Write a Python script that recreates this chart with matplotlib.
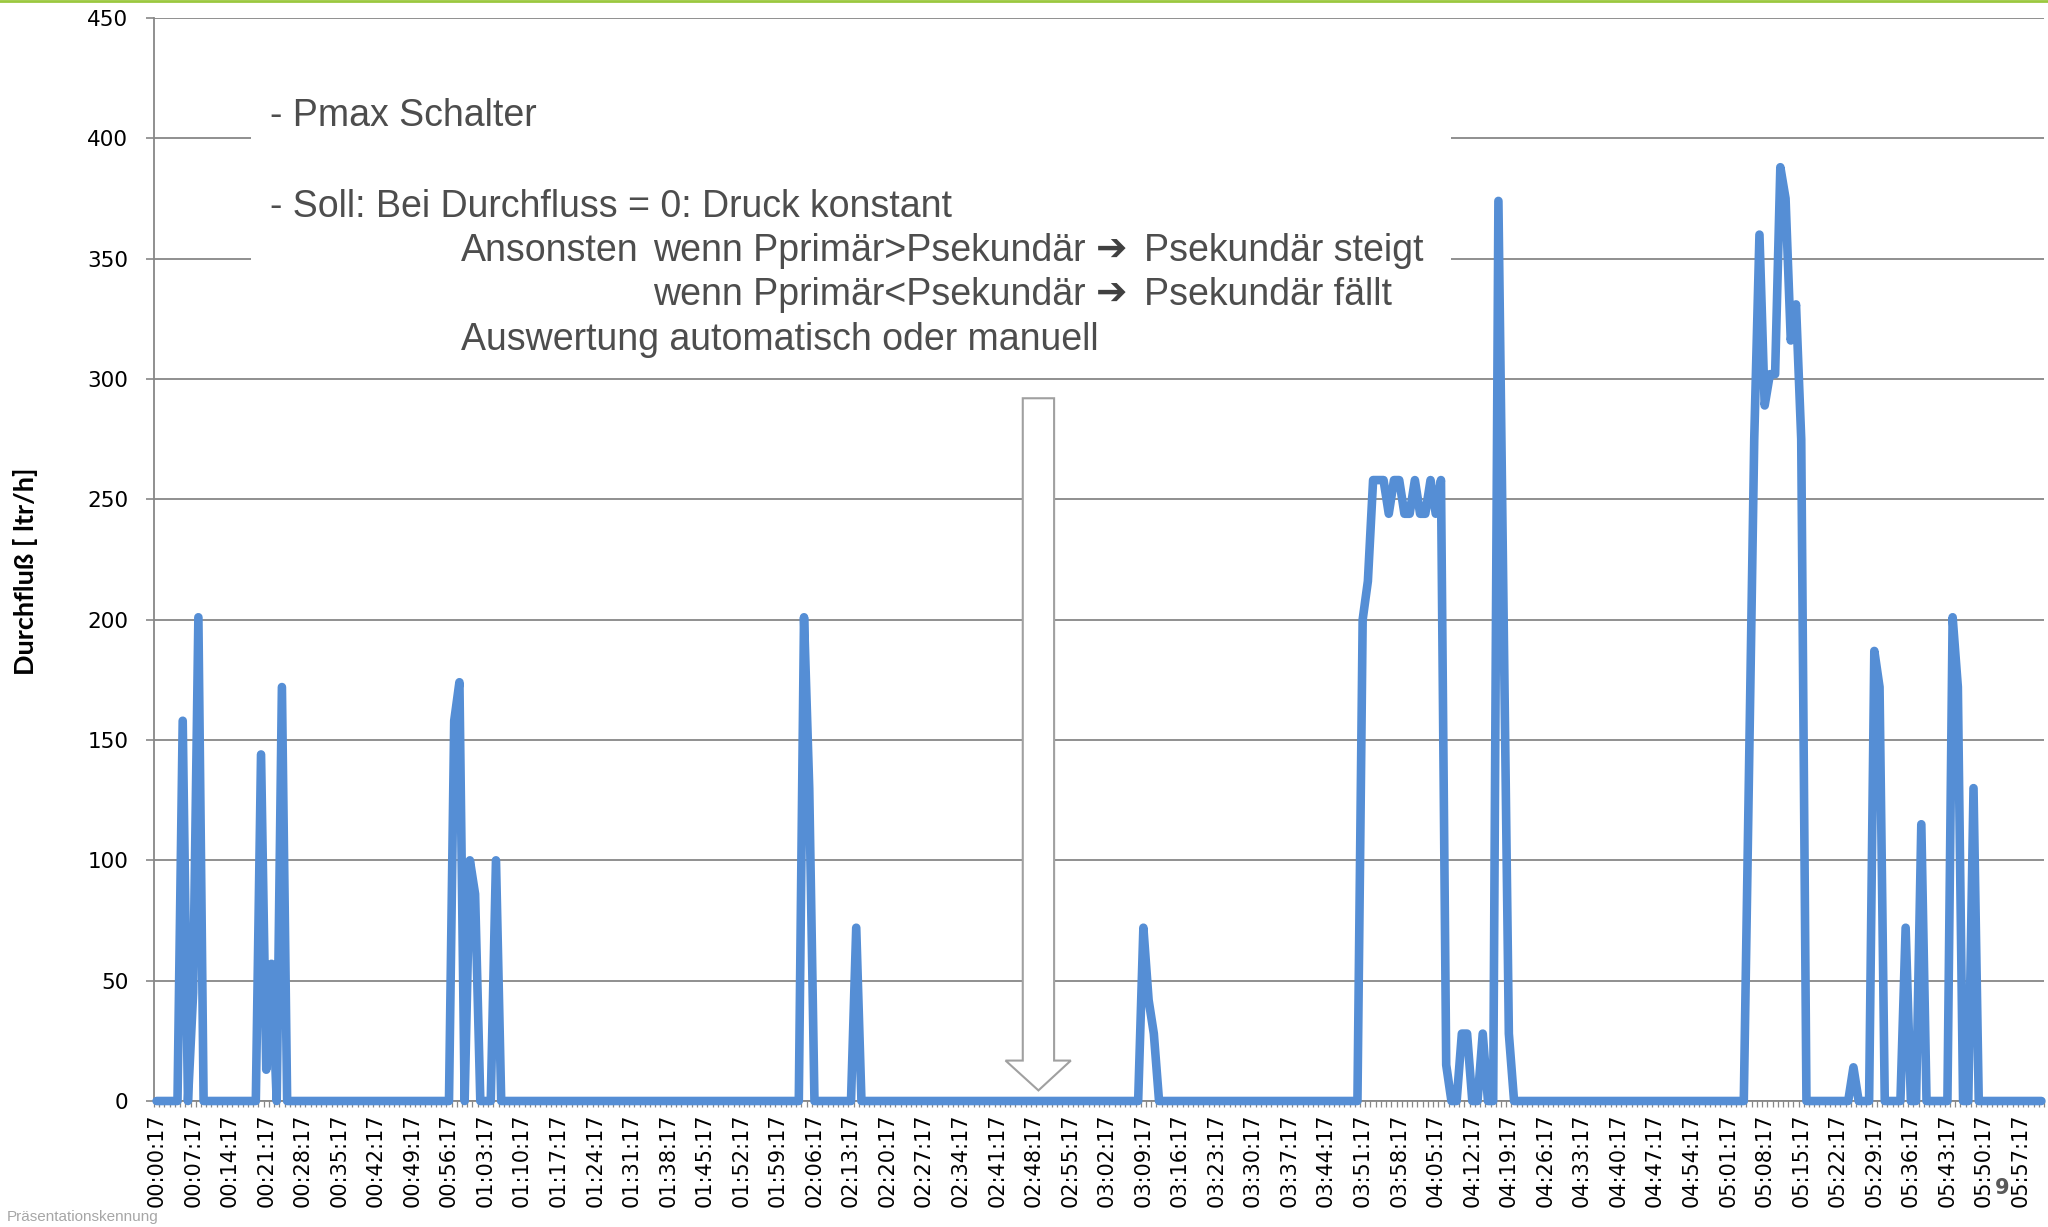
import matplotlib
matplotlib.use("Agg")
import matplotlib.pyplot as plt
from matplotlib.patches import Rectangle, Polygon
from matplotlib.lines import Line2D
import numpy as np
import pandas as pd

# one reading per minute, starting at 00:00:17
n_minutes = 362
start_time = "2000-01-01 00:00:17"
label_step = 7

# readings (minute index -> ltr/h); every other minute reads 0
flow_readings = {
    5: 158, 7: 45, 8: 201,
    20: 144, 21: 13, 22: 57, 24: 172,
    57: 158, 58: 174, 60: 100, 61: 86, 65: 100,
    124: 201, 125: 130,
    134: 72,
    189: 72, 190: 42, 191: 28,
    231: 200, 232: 216, 233: 258, 234: 258, 235: 258, 236: 244, 237: 258,
    238: 258, 239: 244, 240: 244, 241: 258, 242: 244, 243: 244, 244: 258,
    245: 244, 246: 258, 247: 15, 250: 28, 251: 28, 254: 28,
    257: 374, 258: 200, 259: 28,
    305: 137, 306: 275, 307: 360, 308: 289, 309: 302, 310: 302, 311: 388,
    312: 375, 313: 316, 314: 331, 315: 275,
    325: 14,
    329: 187, 330: 172,
    335: 72,
    338: 115,
    344: 201, 345: 172,
    348: 130,
}
y_ticks = [0, 50, 100, 150, 200, 250, 300, 350, 400, 450]

times = pd.date_range(start_time, periods=n_minutes, freq="min").strftime("%H:%M:%S")
flow = np.zeros(n_minutes)
for k, v in flow_readings.items():
    flow[k] = v

W, H = 2048, 1227
fig = plt.figure(figsize=(W / 100, H / 100), dpi=100)
ax = fig.add_axes([154 / W, 1 - 1101 / H, 1890 / W, (1101 - 18) / H])

grey = "#878787"
x = np.arange(n_minutes)
ax.plot(x, flow, color="#558ed5", lw=6.2, solid_joinstyle="round",
        solid_capstyle="round", zorder=3, clip_on=False)

ax.set_xlim(-0.5, n_minutes - 0.5)
ax.set_ylim(0, 450)
ax.set_yticks(y_ticks)
ax.set_xticks(x[::label_step])
ax.set_xticklabels(times[::label_step], rotation=90)
ax.set_xticks(np.arange(-0.5, n_minutes, 1), minor=True)

ax.tick_params(axis="x", which="major", length=0, pad=9, labelsize=15)
ax.tick_params(axis="x", which="minor", length=4.5, width=0.9, color=grey)
ax.tick_params(axis="y", length=6, width=1.2, color=grey, pad=12.5, labelsize=15.5)

ax.yaxis.grid(True, color=grey, lw=1.3)
ax.set_axisbelow(True)
for s in ["top", "right"]:
    ax.spines[s].set_visible(False)
for s in ["left", "bottom"]:
    ax.spines[s].set_color(grey)
    ax.spines[s].set_linewidth(1.3)

# white text box over the gridlines
ax.add_patch(Rectangle((251 / W, 1 - 372 / H), (1451 - 251) / W, (372 - 55) / H,
                       transform=fig.transFigure, facecolor="white",
                       edgecolor="none", zorder=1.5))

# hollow arrow pointing down
arrow = [(165.9, 292), (171.9, 292), (171.9, 16.8), (175.1, 16.8),
         (168.9, 4.4), (162.6, 16.8), (165.9, 16.8)]
ax.add_patch(Polygon(arrow, closed=True, facecolor="white", edgecolor="#a0a0a0",
                     lw=1.5, zorder=2))

txt = dict(fontsize=27, family=["Liberation Sans", "DejaVu Sans"],
           color="#4d4d4d", va="baseline", ha="left")
lines = [
    (270, 126, "- Pmax Schalter"),
    (270, 217, "- Soll: Bei Durchfluss = 0: Druck konstant"),
    (461, 261, "Ansonsten"),
    (653, 261, "wenn Pprimär>Psekundär"),
    (1144, 261, "Psekundär steigt"),
    (653, 305, "wenn Pprimär<Psekundär"),
    (1144, 305, "Psekundär fällt"),
    (461, 350, "Auswertung automatisch oder manuell"),
]
for px, py, s in lines:
    fig.text(px / W, 1 - py / H, s, **txt)
# heavy arrows between the Pprimär / Psekundär parts
for py in [261, 305]:
    fig.text(1112 / W, 1 - py / H, "\u2794", fontsize=27, family="DejaVu Sans",
             fontweight="bold", color="#404040", ha="center", va="baseline")

fig.text(26 / W, 1 - 571 / H, "Durchfluß [ ltr/h]", rotation=90, fontsize=19.5,
         fontweight="bold", family=["Lato", "DejaVu Sans"], ha="center", va="center")

fig.text(7 / W, 1 - 1217 / H, "Präsentationskennung", fontsize=11,
         family=["Liberation Sans", "DejaVu Sans"], color="#a6a6a6", va="center")
fig.text(2002 / W, 1 - 1188 / H, "9", fontsize=15, fontweight="bold",
         color="#595959", ha="center", va="center")

fig.add_artist(Line2D([0, 1], [1 - 1 / H, 1 - 1 / H], transform=fig.transFigure,
                      color="#9bc83f", lw=2))

fig.savefig("out.png", dpi=100)
